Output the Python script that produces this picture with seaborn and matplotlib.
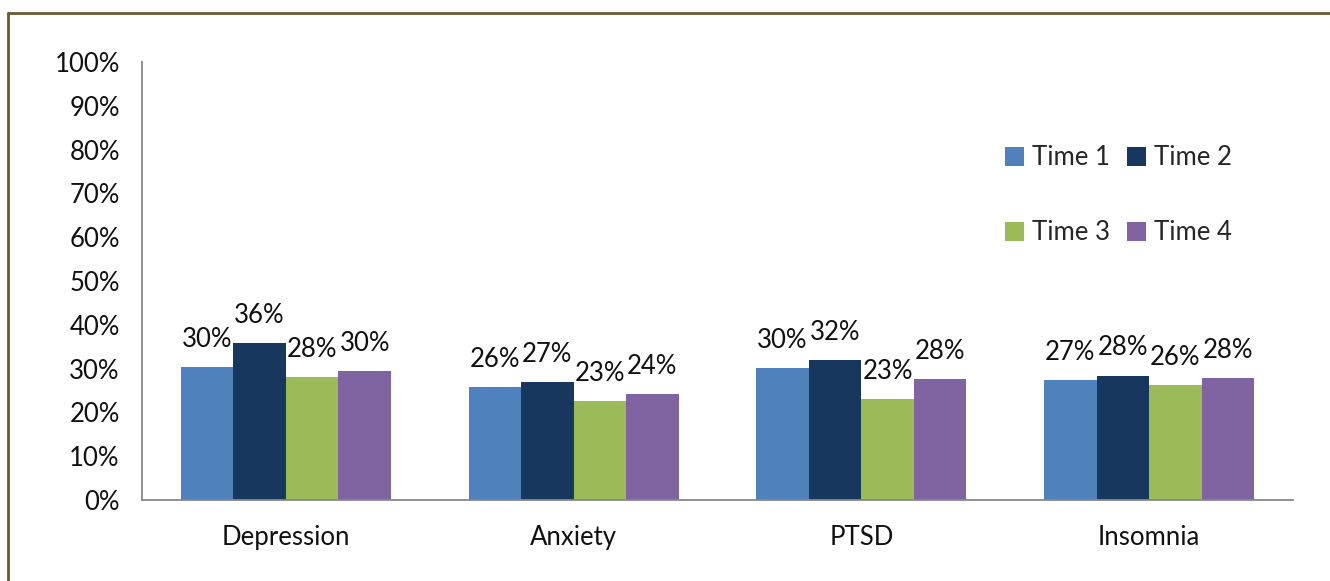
import matplotlib
matplotlib.use("Agg")
import matplotlib.pyplot as plt
from matplotlib.lines import Line2D
from matplotlib.patches import Patch
import seaborn as sns
import pandas as pd

categories = ["Depression", "Anxiety", "PTSD", "Insomnia"]
series = ["Time 1", "Time 2", "Time 3", "Time 4"]
time1 = [30.4, 25.8, 30.1, 27.4]
time2 = [35.8, 26.9, 32.0, 28.4]
time3 = [28.1, 22.6, 23.1, 26.2]
time4 = [29.5, 24.2, 27.6, 27.8]
ytick_values = [0, 10, 20, 30, 40, 50, 60, 70, 80, 90, 100]
ytick_labels = ["0%", "10%", "20%", "30%", "40%", "50%", "60%", "70%", "80%", "90%", "100%"]
colors = ["#4F81BD", "#17375E", "#9BBB59", "#8064A2"]

rows = []
for s, vals in zip(series, [time1, time2, time3, time4]):
    for c, v in zip(categories, vals):
        rows.append({"Category": c, "Series": s, "Value": v})
df = pd.DataFrame(rows)

sns.set_style("white")
plt.rcParams["font.family"] = ["Lato", "DejaVu Sans"]
FS = 18.5

fig = plt.figure(figsize=(13.30, 5.81), dpi=100)
ax = fig.add_axes([142/1330, 1-500/581, (1293-142)/1330, (500-62)/581])

sns.barplot(data=df, x="Category", y="Value", hue="Series", order=categories,
            hue_order=series, palette=colors, width=0.73, saturation=1,
            edgecolor="none", linewidth=0, ax=ax, legend=False)

for cont in ax.containers:
    ax.bar_label(cont, labels=[f"{round(b.get_height()):.0f}%" for b in cont],
                 padding=11, fontsize=FS, color="#111111")

ax.set_xlim(-0.5, 3.5)
ax.set_ylim(0, 100)
ax.set_yticks(ytick_values)
ax.set_yticklabels(ytick_labels, fontsize=FS, color="#111111")
ax.set_xticks(range(len(categories)))
ax.set_xticklabels(categories, fontsize=FS, color="#111111")
ax.set_xticks([-0.5, 0.5, 1.5, 2.5, 3.5], minor=True)
ax.tick_params(axis="x", which="major", length=0, pad=18)
ax.tick_params(axis="x", which="minor", length=8, width=1.3, color="#888888", direction="out")
ax.tick_params(axis="y", length=6, width=1.3, color="#888888", direction="out", pad=10)
ax.set_xlabel("")
ax.set_ylabel("")
for side in ["top", "right"]:
    ax.spines[side].set_visible(False)
for side in ["left", "bottom"]:
    ax.spines[side].set_color("#888888")
    ax.spines[side].set_linewidth(1.3)

# legend filled row-wise: Time 1, Time 2 / Time 3, Time 4
order = [0, 2, 1, 3]
handles = [Patch(facecolor=colors[i], edgecolor="none") for i in order]
labels = [series[i] for i in order]
leg = fig.legend(handles, labels, ncol=2, loc="upper left",
                 bbox_to_anchor=(982/1330, 1-122/581), frameon=False,
                 fontsize=FS, handlelength=0.75, handleheight=0.75,
                 handletextpad=0.3, columnspacing=0.65, labelspacing=1.95)

border_color = "#6B5A2E"
fig.add_artist(Line2D([7.5/1330, 1.0], [1-12.5/581, 1-12.5/581],
                      transform=fig.transFigure, color=border_color, linewidth=2))
fig.add_artist(Line2D([7.5/1330, 7.5/1330], [0, 1-12.5/581],
                      transform=fig.transFigure, color=border_color, linewidth=2))

fig.savefig("out.png", dpi=100, facecolor="white")
